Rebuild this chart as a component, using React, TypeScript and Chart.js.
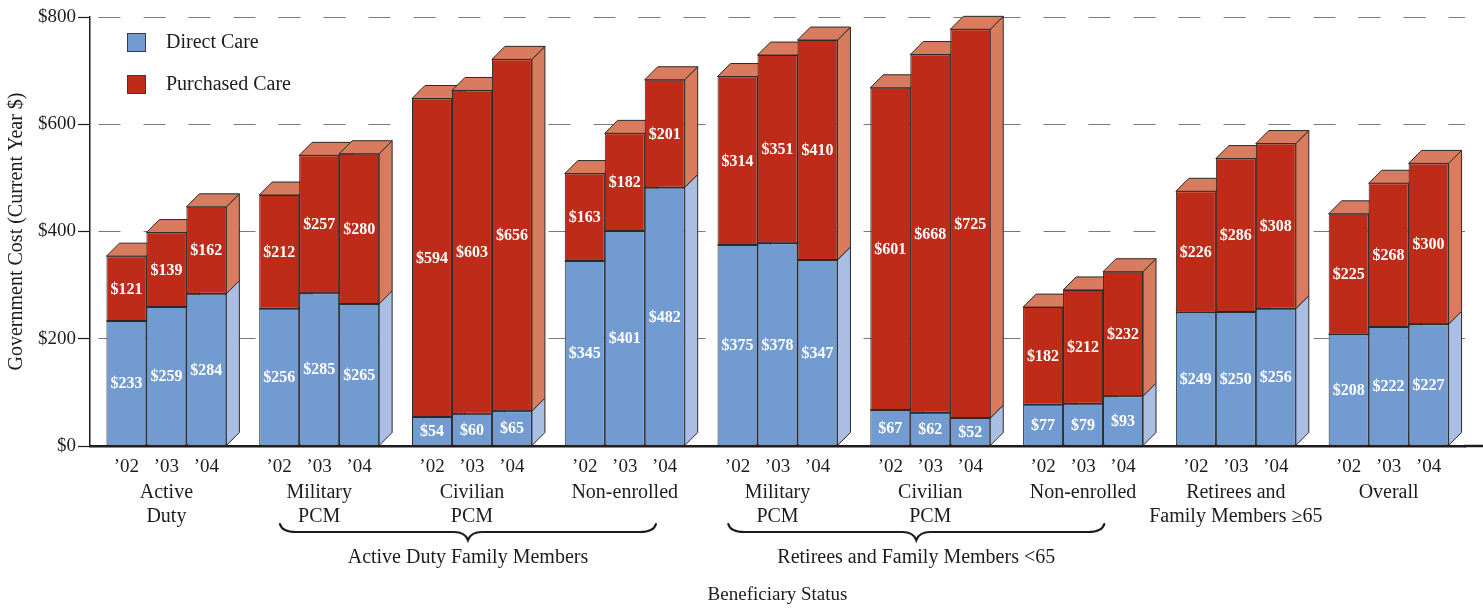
import React, { useEffect, useRef } from 'react';
import { Chart, registerables } from 'chart.js';

Chart.register(...registerables);

// ---------- data ----------
const GROUP_LABELS: (string | string[])[] = [
  ['Active', 'Duty'],
  ['Military', 'PCM'],
  ['Civilian', 'PCM'],
  'Non-enrolled',
  ['Military', 'PCM'],
  ['Civilian', 'PCM'],
  'Non-enrolled',
  ['Retirees and', 'Family Members ≥65'],
  'Overall',
];
const YEAR_LABELS = ['’02', '’03', '’04'];
const DIRECT_CARE_02 = [233, 256, 54, 345, 375, 67, 77, 249, 208];
const DIRECT_CARE_03 = [259, 285, 60, 401, 378, 62, 79, 250, 222];
const DIRECT_CARE_04 = [284, 265, 65, 482, 347, 52, 93, 256, 227];
const PURCHASED_CARE_02 = [121, 212, 594, 163, 314, 601, 182, 226, 225];
const PURCHASED_CARE_03 = [139, 257, 603, 182, 351, 668, 212, 286, 268];
const PURCHASED_CARE_04 = [162, 280, 656, 201, 410, 725, 232, 308, 300];
const SERIES_NAMES = ['Direct Care', 'Purchased Care'];
const BRACKET_LABELS = ['Active Duty Family Members', 'Retirees and Family Members <65'];
const BRACKET_FIRST_GROUP = [1, 4];
const BRACKET_LAST_GROUP = [3, 6];
const Y_MIN = 0;
const Y_MAX = 800;
const Y_STEP = 200;
const Y_TITLE = 'Government Cost (Current Year $)';
const X_TITLE = 'Beneficiary Status';

// ---------- style ----------
const FONT = "'Liberation Serif', 'Times New Roman', serif";
const INK = '#1c1c1c';
const BLUE = '#729bd1';
const RED = '#bf2b19';
const ORANGE = '#d97b5e';
const LIGHT_BLUE = '#a9bee2';
const EDGE = '#2a2a2a';
const DX = 13;
const DY = 13;

function poly(ctx: CanvasRenderingContext2D, pts: number[][], fill: string) {
  ctx.beginPath();
  ctx.moveTo(pts[0][0], pts[0][1]);
  for (let i = 1; i < pts.length; i++) ctx.lineTo(pts[i][0], pts[i][1]);
  ctx.closePath();
  ctx.fillStyle = fill;
  ctx.fill();
  ctx.strokeStyle = EDGE;
  ctx.lineWidth = 1;
  ctx.stroke();
}

const threeDPlugin = {
  id: 'threeD',
  beforeDatasetsDraw(chart: any) {
    const ctx: CanvasRenderingContext2D = chart.ctx;
    const n = chart.data.labels.length;
    ctx.save();
    ctx.lineJoin = 'miter';
    for (let i = 0; i < n; i++) {
      for (let s = 0; s < 3; s++) {
        const d = chart.getDatasetMeta(2 * s).data[i];
        const p = chart.getDatasetMeta(2 * s + 1).data[i];
        if (!d || !p) continue;
        const { x, width, base, y } = d.getProps(['x', 'width', 'base', 'y'], true);
        const yp = p.getProps(['y'], true).y;
        const l = x - width / 2;
        const r = x + width / 2;
        poly(ctx, [[r, base], [r + DX, base - DY], [r + DX, y - DY], [r, y]], LIGHT_BLUE);
        poly(ctx, [[r, y], [r + DX, y - DY], [r + DX, yp - DY], [r, yp]], ORANGE);
        poly(ctx, [[l, yp], [l + DX, yp - DY], [r + DX, yp - DY], [r, yp]], ORANGE);
      }
    }
    ctx.restore();
  },
  afterDatasetsDraw(chart: any) {
    const ctx: CanvasRenderingContext2D = chart.ctx;
    const n = chart.data.labels.length;
    ctx.save();
    // crisp boundary between the two stacked segments
    ctx.strokeStyle = EDGE;
    ctx.lineWidth = 1.3;
    for (let i = 0; i < n; i++) {
      for (let s = 0; s < 3; s++) {
        const d = chart.getDatasetMeta(2 * s).data[i];
        if (!d) continue;
        const { x, width, y } = d.getProps(['x', 'width', 'y'], true);
        ctx.beginPath();
        ctx.moveTo(x - width / 2, y);
        ctx.lineTo(x + width / 2, y);
        ctx.stroke();
      }
    }
    ctx.font = `bold 16px ${FONT}`;
    ctx.fillStyle = '#ffffff';
    ctx.textAlign = 'center';
    ctx.textBaseline = 'middle';
    chart.data.datasets.forEach((ds: any, k: number) => {
      const meta = chart.getDatasetMeta(k);
      meta.data.forEach((el: any, i: number) => {
        const { x, y, base } = el.getProps(['x', 'y', 'base'], true);
        ctx.fillText('$' + ds.data[i], x, (y + base) / 2 + 1);
      });
    });
    ctx.restore();
  },
  afterDraw(chart: any) {
    const ctx: CanvasRenderingContext2D = chart.ctx;
    const area = chart.chartArea;
    const n = chart.data.labels.length;
    ctx.save();
    // extend x axis line to the right edge
    ctx.strokeStyle = INK;
    ctx.lineWidth = 2.5;
    ctx.beginPath();
    ctx.moveTo(area.right - 1, area.bottom);
    ctx.lineTo(chart.width, area.bottom);
    ctx.stroke();

    // year labels
    ctx.font = `19px ${FONT}`;
    ctx.fillStyle = INK;
    ctx.textAlign = 'center';
    ctx.textBaseline = 'middle';
    for (let i = 0; i < n; i++) {
      for (let s = 0; s < 3; s++) {
        const el = chart.getDatasetMeta(2 * s).data[i];
        if (!el) continue;
        ctx.fillText(YEAR_LABELS[s], el.x, area.bottom + 21);
      }
    }

    // braces
    const xScale = chart.scales.x;
    const shifts = [-4, -14];
    BRACKET_LABELS.forEach((label, b) => {
      const c1 = xScale.getPixelForValue(BRACKET_FIRST_GROUP[b]);
      const c2 = xScale.getPixelForValue(BRACKET_LAST_GROUP[b]);
      const mid = (c1 + c2) / 2 + shifts[b];
      const half = 188;
      const x1 = mid - half;
      const x2 = mid + half;
      const yEnd = area.bottom + 78;
      const yArm = area.bottom + 86;
      const yTip = area.bottom + 94;
      ctx.strokeStyle = INK;
      ctx.lineWidth = 2.2;
      ctx.lineCap = 'round';
      ctx.beginPath();
      ctx.moveTo(x1, yEnd);
      ctx.quadraticCurveTo(x1 + 2, yArm, x1 + 16, yArm);
      ctx.lineTo(mid - 14, yArm);
      ctx.quadraticCurveTo(mid - 3, yArm, mid, yTip);
      ctx.quadraticCurveTo(mid + 3, yArm, mid + 14, yArm);
      ctx.lineTo(x2 - 16, yArm);
      ctx.quadraticCurveTo(x2 - 2, yArm, x2, yEnd);
      ctx.stroke();
      ctx.font = `20px ${FONT}`;
      ctx.fillStyle = INK;
      ctx.fillText(label, mid, area.bottom + 112);
    });

    // legend
    const colors = [BLUE, RED];
    SERIES_NAMES.forEach((name, k) => {
      const lx = area.left + 37;
      const ly = area.top + 16 + k * 42;
      ctx.fillStyle = colors[k];
      ctx.fillRect(lx, ly, 19, 19);
      ctx.strokeStyle = '#3a3a3a';
      ctx.lineWidth = 1;
      ctx.strokeRect(lx + 0.5, ly + 0.5, 18, 18);
      ctx.font = `20px ${FONT}`;
      ctx.fillStyle = INK;
      ctx.textAlign = 'left';
      ctx.fillText(name, lx + 39, ly + 10);
    });
    ctx.restore();
  },
};

export default function App() {
  const ref = useRef<HTMLCanvasElement | null>(null);
  useEffect(() => {
    if (!ref.current) return;
    const mk = (label: string, data: number[], stack: string, color: string) => ({
      label,
      data,
      stack,
      backgroundColor: color,
      borderColor: EDGE,
      borderWidth: 1,
      borderSkipped: false,
    });
    const chart = new Chart(ref.current, {
      type: 'bar',
      data: {
        labels: GROUP_LABELS as any,
        datasets: [
          mk(SERIES_NAMES[0], DIRECT_CARE_02, '02', BLUE),
          mk(SERIES_NAMES[1], PURCHASED_CARE_02, '02', RED),
          mk(SERIES_NAMES[0], DIRECT_CARE_03, '03', BLUE),
          mk(SERIES_NAMES[1], PURCHASED_CARE_03, '03', RED),
          mk(SERIES_NAMES[0], DIRECT_CARE_04, '04', BLUE),
          mk(SERIES_NAMES[1], PURCHASED_CARE_04, '04', RED),
        ] as any,
      },
      options: {
        animation: false,
        responsive: true,
        maintainAspectRatio: false,
        layout: { padding: { top: 17, right: 18, bottom: 0, left: 0 } },
        datasets: { bar: { categoryPercentage: 0.785, barPercentage: 1 } } as any,
        plugins: {
          legend: { display: false },
          tooltip: { enabled: false },
        },
        font: { family: FONT } as any,
        scales: {
          x: {
            stacked: true,
            grid: { display: false },
            border: { display: true, color: INK, width: 2.5 },
            ticks: {
              font: { family: FONT, size: 20, lineHeight: 1.2 },
              color: INK,
              padding: 27,
              maxRotation: 0,
              autoSkip: false,
            },
            title: {
              display: true,
              text: X_TITLE,
              font: { family: FONT, size: 19, lineHeight: 1.2 },
              color: INK,
              padding: { top: 0, bottom: 3 },
            },
            afterFit: (s: any) => {
              s.height = 163;
            },
          } as any,
          y: {
            stacked: true,
            min: Y_MIN,
            max: Y_MAX,
            ticks: {
              stepSize: Y_STEP,
              callback: (v: any) => '$' + v,
              font: { family: FONT, size: 19 },
              color: INK,
              padding: 2,
            },
            grid: {
              color: (c: any) => (c.tick && c.tick.value === 0 ? 'rgba(0,0,0,0)' : '#7a7a7a'),
              lineWidth: 1,
              drawTicks: true,
              tickLength: 12,
              tickColor: INK,
              tickWidth: 1.2,
              tickBorderDash: [],
            },
            border: { display: true, color: INK, width: 1.5, dash: [22, 23], dashOffset: 37 },
            title: {
              display: true,
              text: Y_TITLE,
              font: { family: FONT, size: 20, lineHeight: 1.2 },
              color: INK,
              padding: { top: 5, bottom: 0 },
            },
            afterFit: (s: any) => {
              s.width = 90;
            },
          } as any,
        },
      },
      plugins: [threeDPlugin],
    });
    return () => chart.destroy();
  }, []);
  return (
    <div style={{ position: 'absolute', left: 0, top: 0, width: 1483, height: 609, background: '#fff' }}>
      <canvas ref={ref} />
    </div>
  );
}
